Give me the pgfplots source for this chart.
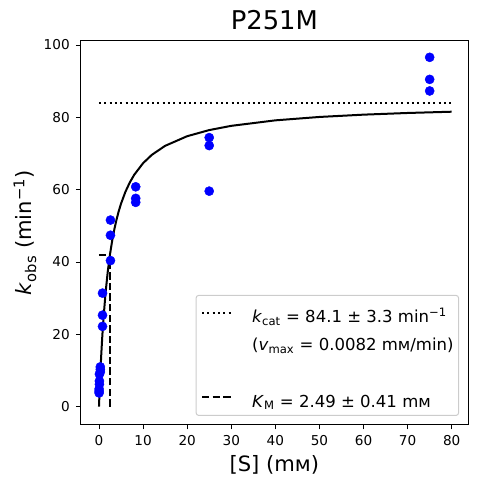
\documentclass[border=0pt]{standalone}
\usepackage{fontspec}
\setmainfont{DejaVu Sans}
\usepackage{pgfplots}
\pgfplotsset{compat=1.18}
\definecolor{legframe}{RGB}{204,204,204}
\begin{document}
\begin{tikzpicture}
\begin{axis}[
  name=ax,
  scale only axis, width=278.9bp, height=276.5bp,
  xmin=-4.15, xmax=83.7, ymin=-4.98, ymax=101.2,
  xtick={0,10,...,80}, ytick={0,20,...,100},
  tick align=outside, tick pos=left,
  major tick length=3.4bp,
  every tick/.style={black, line width=0.58bp},
  axis line style={line width=0.58bp},
  /pgf/number format/assume math mode=true,
  tick label style={font=\fontsize{9.8bp}{11bp}\selectfont},
  xticklabel style={inner sep=0pt},
  yticklabel style={inner sep=0pt},
  xticklabel shift=4.4bp,
  yticklabel shift=4.3bp,
  legend cell align=left,
  legend image code/.code={\draw[#1] (0bp,0bp) -- (22.3bp,0bp);},
  legend style={at={(0.977,0.0227)}, anchor=south east,
    draw=legframe, line width=0.72bp, rounded corners=2bp,
    fill=white, fill opacity=0.8, text opacity=1, draw opacity=1,
    font=\fontsize{11.9bp}{13bp}\selectfont,
    inner xsep=3.6bp, inner ysep=2.85bp,
    column sep=0bp,
    nodes={inner sep=0pt, text height=16.95bp, text depth=3.25bp},
    /tikz/every odd column/.append style={column sep=13bp},
  },
]
\addlegendimage{black, line width=1.44bp, dash pattern=on 1.44bp off 2.38bp}
\addlegendentry{\textit{k}\textsubscript{cat} = 84.1 ± 3.3 min\textsuperscript{−1}}
\addlegendimage{empty legend}
\addlegendentry{(\textit{v}\textsubscript{max} = 0.0082 mᴍ/min)}
\addlegendimage{empty legend}
\addlegendentry{}
\addlegendimage{black, line width=1.44bp, dash pattern=on 5.33bp off 2.30bp}
\addlegendentry{\textit{K}\textsubscript{M} = 2.49 ± 0.41 mᴍ}

% Michaelis-Menten fit curve
\addplot[black, line width=1.44bp, forget plot] coordinates {
(0,0) (0.1,3.247) (0.2,6.253) (0.3,9.04) (0.5,14.064) (0.75,19.468) (1,24.097)
(1.5,31.617) (2,37.461) (2.5,42.134) (3,45.956) (3.5,49.140) (4,51.834)
(4.5,54.142) (5,56.142) (6,59.435) (7,62.034) (8,64.137) (10,67.334)
(12,69.648) (15,72.127) (20,74.789) (25,76.482) (30,77.655) (40,79.172)
(50,80.111) (60,80.749) (70,81.211) (80,81.561)};
% kcat line
\addplot[black, line width=1.44bp, dash pattern=on 1.44bp off 2.38bp, forget plot]
  coordinates {(0,84.1) (80,84.1)};
% KM lines
\addplot[black, line width=1.44bp, dash pattern=on 5.33bp off 2.30bp, forget plot]
  coordinates {(0,42.05) (2.49,42.05)};
\addplot[black, line width=1.44bp, dash pattern=on 5.33bp off 2.30bp, forget plot]
  coordinates {(2.49,0) (2.49,42.05)};
% data points
\addplot[color=blue, only marks, mark=*, mark size=3.3bp, mark options={draw=blue, fill=blue, line width=0.3bp}, forget plot]
  coordinates {
(0.03,3.8) (0.03,4.3) (0.03,4.9) (0.1,6.2) (0.1,7.1) (0.1,9.0)
(0.3,9.6) (0.3,10.3) (0.3,11.0)
(0.8,22.2) (0.8,25.3) (0.8,31.4)
(2.6,40.4) (2.6,47.4) (2.6,51.6)
(8.33,56.5) (8.33,57.6) (8.33,60.8)
(25,59.6) (25,72.2) (25,74.4)
(75,87.3) (75,90.5) (75,96.6)};
\end{axis}
\node[anchor=base, font=\fontsize{18.6bp}{20bp}\selectfont] at ([yshift=7.7bp]ax.north) {P251M};
\node[anchor=base, font=\fontsize{15.2bp}{17bp}\selectfont] at ([yshift=-33.8bp]ax.south) {[S] (mᴍ)};
\node[anchor=base, rotate=90, font=\fontsize{15.2bp}{17bp}\selectfont] at ([xshift=-35.3bp]ax.west) {\textit{k}\textsubscript{obs} (min\textsuperscript{−1})};
\path ([xshift=-58.1bp, yshift=-42.7bp]ax.south west) rectangle ([xshift=6.5bp, yshift=29.3bp]ax.north east);
\end{tikzpicture}
\end{document}
